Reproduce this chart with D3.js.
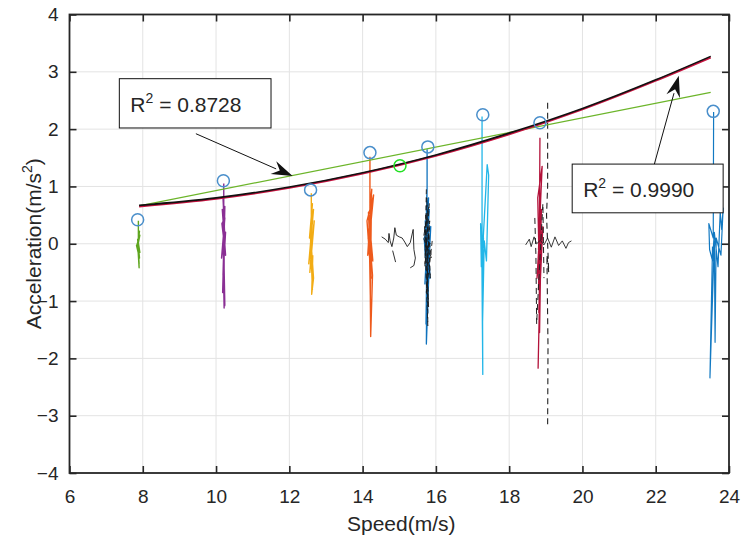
<!DOCTYPE html>
<html><head><meta charset="utf-8">
<script src="https://cdn.jsdelivr.net/npm/d3@7"></script>
<style>
body{margin:0;background:#fff}
text{font-family:"Liberation Sans",Arial,Helvetica,sans-serif;fill:#262626}
</style>
</head><body>
<svg id="chart" width="742" height="541"></svg>
<script>
// ---------- data ----------
const xTicks = [6, 8, 10, 12, 14, 16, 18, 20, 22, 24];
const yTicks = [-4, -3, -2, -1, 0, 1, 2, 3, 4];

// nonlinear fit curve (black) and its companion (red), read at sample speeds
const fitSpeeds = [7.9, 10, 12, 14, 16, 18, 20, 22, 23.5];
const fitBlack  = [0.67, 0.80, 0.99, 1.24, 1.55, 1.93, 2.36, 2.86, 3.27];
const fitRed    = [0.65, 0.785, 0.975, 1.225, 1.535, 1.91, 2.345, 2.845, 3.25];

// linear fit (green)
const linSpeeds = [7.9, 23.5];
const linAcc    = [0.66, 2.64];

// peak markers
const peakSpeeds = [7.86, 10.2, 12.58, 14.2, 15.78, 17.28, 18.84, 23.57];
const peakAcc    = [0.42, 1.10, 0.94, 1.59, 1.69, 2.25, 2.11, 2.31];
const extraSpeed = [15.02];
const extraAcc   = [1.36];

// measured acceleration traces, [speed, acceleration]
const greenTrace = [[7.88,0.40],[7.88,0.10],[7.91,0.22],[7.86,-0.05],[7.92,0.15],[7.84,-0.02],[7.83,-0.03],[7.91,-0.25],[7.87,0.05],[7.92,-0.15],[7.86,0.08],[7.90,-0.35],[7.87,-0.10],[7.90,-0.42],[7.89,-0.20]];
const purpleTrace = [[10.21,1.05],[10.21,0.55],[10.19,0.80],[10.24,0.10],[10.17,0.60],[10.26,-0.20],[10.16,0.35],[10.24,0.45],[10.15,-0.25],[10.26,0.20],[10.19,-0.55],[10.24,0.65],[10.18,-0.85],[10.22,0.15],[10.22,-1.12],[10.20,-0.40],[10.24,-1.08],[10.21,-0.10]];
const orangeTrace = [[12.60,0.88],[12.60,0.45],[12.63,0.70],[12.55,0.10],[12.66,0.60],[12.53,-0.35],[12.64,0.20],[12.56,-0.50],[12.68,0.40],[12.59,-0.10],[12.63,-0.80],[12.57,0.25],[12.66,-0.60],[12.61,-0.88],[12.64,-0.20]];
const redOrangeTrace = [[14.20,1.52],[14.20,0.60],[14.25,0.95],[14.14,-0.20],[14.30,0.85],[14.12,0.40],[14.23,-0.60],[14.16,0.55],[14.28,-0.30],[14.15,0.10],[14.24,0.70],[14.21,-0.90],[14.18,0.20],[14.27,-0.55],[14.22,-1.62],[14.20,-0.10]];
const blueTrace1 = [[15.76,1.65],[15.76,0.95],[15.72,-0.30],[15.80,0.80],[15.70,0.20],[15.84,-0.60],[15.74,0.65],[15.78,-1.20],[15.71,0.40],[15.83,-0.20],[15.75,0.85],[15.79,-0.90],[15.68,0.10],[15.86,0.30],[15.73,-1.40],[15.77,0.55],[15.81,-0.50],[15.74,-1.75],[15.76,0.15],[15.82,0.60],[15.70,-0.70],[15.78,0.25],[15.75,-1.05],[15.80,-0.15],[15.76,0.00]];
const blackTrace1 = [[15.74,0.95],[15.70,-0.40],[15.82,0.70],[15.66,0.10],[15.88,-0.25],[15.72,0.50],[15.80,-1.10],[15.69,0.30],[15.85,-0.60],[15.75,0.80],[15.78,-1.43],[15.71,-0.10],[15.90,0.05],[15.74,-0.85],[15.83,0.40],[15.77,-0.30]];
const blackSquiggle1 = [[14.52,0.12],[14.62,0.08],[14.70,0.02],[14.72,0.18],[14.75,0.05],[14.80,-0.05],[14.85,0.10],[14.88,0.28],[14.92,0.15],[15.00,0.12],[15.08,0.10],[15.15,0.03],[15.22,-0.05],[15.30,0.02],[15.38,0.25],[15.40,-0.10],[15.44,-0.25],[15.40,-0.38],[15.30,-0.42]];
const blackSquiggle1b = [[14.82,-0.12],[14.90,-0.32]];
const cyanTrace = [[17.26,2.22],[17.26,-0.20],[17.22,0.35],[17.24,-0.40],[17.30,0.10],[17.28,-0.05],[17.40,1.38],[17.44,1.20],[17.38,-0.30],[17.32,0.05],[17.27,-1.50],[17.25,0.20],[17.28,-2.28],[17.27,-0.60],[17.30,-0.10]];
const darkRedTrace = [[18.84,1.85],[18.82,-0.40],[18.78,0.80],[18.90,1.35],[18.80,-0.10],[18.86,0.50],[18.76,-0.60],[18.92,0.30],[18.81,-1.20],[18.88,0.60],[18.79,-2.17],[18.85,-0.30],[18.83,-1.55],[18.87,0.10],[18.80,-0.80],[18.84,0.20]];
const blackDashed2 = [[19.05,2.46],[19.05,1.00],[19.02,0.50],[19.08,-0.50],[19.03,-0.20],[19.06,-1.80],[19.05,-3.15]];
const blackDashed2b = [[18.70,0.45],[18.73,-0.20],[18.75,-1.40],[18.78,-1.00],[18.92,0.70],[18.95,-0.60]];
const blackSquiggle2 = [[18.45,-0.02],[18.55,0.08],[18.60,-0.05],[18.68,0.12],[18.75,0.00],[18.85,0.06],[18.95,-0.02],[19.05,0.10],[19.15,-0.06],[19.25,0.12],[19.35,-0.03],[19.45,0.05],[19.55,-0.08],[19.62,0.02],[19.70,0.05]];
const blueTrace2 = [[23.58,2.30],[23.57,0.10],[23.45,0.35],[23.47,-0.10],[23.55,-0.30],[23.60,0.20],[23.70,-0.40],[23.76,0.55],[23.80,0.25],[23.84,0.62],[23.78,-0.20],[23.65,0.10],[23.62,-1.72],[23.60,0.05],[23.48,-2.34],[23.55,-0.05]];

const traces = [
  {pts: greenTrace, color: "#5fa61f", w: 1.4},
  {pts: purpleTrace, color: "#8a2f94", w: 1.4},
  {pts: orangeTrace, color: "#f2ac14", w: 1.4},
  {pts: redOrangeTrace, color: "#ee5a1c", w: 1.4},
  {pts: blueTrace1, color: "#0f72bd", w: 1.3},
  {pts: blackTrace1, color: "#1a1a1a", w: 0.9, dash: "5,3"},
  {pts: blackSquiggle1, color: "#1a1a1a", w: 0.9},
  {pts: blackSquiggle1b, color: "#1a1a1a", w: 0.9},
  {pts: cyanTrace, color: "#22b6e8", w: 1.3},
  {pts: darkRedTrace, color: "#b3123a", w: 1.3},
  {pts: blackDashed2, color: "#222", w: 1.1, dash: "6,4"},
  {pts: blackDashed2b, color: "#222", w: 1.0, dash: "6,4"},
  {pts: blackSquiggle2, color: "#222", w: 0.9},
  {pts: blueTrace2, color: "#1279c2", w: 1.2}
];

const notes = [
  {label: "0.8728", box: [7.36, 11.5, 2.88, 2.02], tail: [9.45, 1.92], tip: [12.09, 1.18]},
  {label: "0.9990", box: [19.72, 23.84, 1.39, 0.54], tail: [21.95, 1.36], tip: [22.63, 2.93]}
];

// ---------- layout ----------
const W = 742, H = 541;
const m = {l: 69.5, r: 13, t: 14.5, b: 68};
const svg = d3.select("#chart");
const x = d3.scaleLinear().domain([6, 24]).range([m.l, W - m.r]);
const y = d3.scaleLinear().domain([-4, 4]).range([H - m.b, m.t]);

// grid
const grid = svg.append("g").attr("stroke", "#e3e3e3").attr("stroke-width", 1);
grid.selectAll(".gx").data(xTicks.slice(1, -1)).join("line")
  .attr("x1", d => x(d)).attr("x2", d => x(d)).attr("y1", y(-4)).attr("y2", y(4));
grid.selectAll(".gy").data(yTicks.slice(1, -1)).join("line")
  .attr("x1", x(6)).attr("x2", x(24)).attr("y1", d => y(d)).attr("y2", d => y(d));

const line = d3.line().x(d => x(d[0])).y(d => y(d[1]));

// traces
traces.forEach(t => {
  svg.append("path").datum(t.pts).attr("d", line)
    .attr("fill", "none").attr("stroke", t.color).attr("stroke-width", t.w)
    .attr("stroke-linejoin", "round")
    .attr("stroke-dasharray", t.dash || null);
});

// fits
const smooth = d3.line().x(d => x(d[0])).y(d => y(d[1])).curve(d3.curveMonotoneX);
svg.append("path").datum(linSpeeds.map((s, i) => [s, linAcc[i]])).attr("d", line)
  .attr("fill", "none").attr("stroke", "#6cb52a").attr("stroke-width", 1.2);
svg.append("path").datum(fitSpeeds.map((s, i) => [s, fitRed[i]])).attr("d", smooth)
  .attr("fill", "none").attr("stroke", "#c8123f").attr("stroke-width", 2);
svg.append("path").datum(fitSpeeds.map((s, i) => [s, fitBlack[i]])).attr("d", smooth)
  .attr("fill", "none").attr("stroke", "#111").attr("stroke-width", 1.6);

// markers
svg.append("g").selectAll("circle").data(peakSpeeds.map((s, i) => [s, peakAcc[i]])).join("circle")
  .attr("cx", d => x(d[0])).attr("cy", d => y(d[1])).attr("r", 6)
  .attr("fill", "none").attr("stroke", "#4a8fcb").attr("stroke-width", 1.5);
svg.append("g").selectAll("circle").data(extraSpeed.map((s, i) => [s, extraAcc[i]])).join("circle")
  .attr("cx", d => x(d[0])).attr("cy", d => y(d[1])).attr("r", 6)
  .attr("fill", "none").attr("stroke", "#22e022").attr("stroke-width", 1.5);

// axes (box with inward ticks)
const fmt = d3.format("d");
svg.append("g").attr("transform", `translate(0,${y(-4)})`)
  .call(d3.axisBottom(x).tickValues(xTicks).tickFormat(fmt).tickSize(-7).tickPadding(17).tickSizeOuter(0))
  .call(g => g.select(".domain").remove());
svg.append("g").attr("transform", `translate(${x(6)},0)`)
  .call(d3.axisLeft(y).tickValues(yTicks).tickFormat(fmt).tickSize(-7).tickPadding(11).tickSizeOuter(0))
  .call(g => g.select(".domain").remove());
svg.append("g").attr("transform", `translate(0,${y(4)})`)
  .call(d3.axisTop(x).tickValues(xTicks).tickFormat("").tickSize(-7).tickSizeOuter(0))
  .call(g => g.select(".domain").remove());
svg.append("g").attr("transform", `translate(${x(24)},0)`)
  .call(d3.axisRight(y).tickValues(yTicks).tickFormat("").tickSize(-7).tickSizeOuter(0))
  .call(g => g.select(".domain").remove());
svg.selectAll(".tick line").attr("stroke", "#262626").attr("stroke-width", 1.6);
svg.selectAll(".tick text").attr("font-size", 19).attr("font-family", "Liberation Sans, Arial, sans-serif").attr("fill", "#262626");
svg.append("rect").attr("x", x(6)).attr("y", y(4)).attr("width", x(24) - x(6)).attr("height", y(-4) - y(4))
  .attr("fill", "none").attr("stroke", "#262626").attr("stroke-width", 1.8);

// axis labels
svg.append("text").attr("x", (x(6) + x(24)) / 2 + 2).attr("y", 531).attr("text-anchor", "middle")
  .attr("font-size", 21).text("Speed(m/s)");
const yl = svg.append("text").attr("transform", `translate(41,${(y(-4) + y(4)) / 2}) rotate(-90)`)
  .attr("text-anchor", "middle").attr("font-size", 21);
yl.append("tspan").text("Acceleration(m/s");
yl.append("tspan").attr("font-size", 14).attr("dy", -9).text("2");
yl.append("tspan").attr("dy", 9).text(")");

// annotations
notes.forEach(n => {
  const [x0, x1, y0, y1] = n.box;
  const tx = x(n.tail[0]), ty = y(n.tail[1]), px = x(n.tip[0]), py = y(n.tip[1]);
  const ang = Math.atan2(py - ty, px - tx);
  const L = 18, hw = 7;
  const bx = px - L * Math.cos(ang), by = py - L * Math.sin(ang);
  svg.append("line").attr("x1", tx).attr("y1", ty).attr("x2", bx).attr("y2", by)
    .attr("stroke", "#111").attr("stroke-width", 1);
  const pts = [[px, py],
    [bx + hw * Math.sin(ang) - 3 * Math.cos(ang), by - hw * Math.cos(ang) - 3 * Math.sin(ang)],
    [bx + 4 * Math.cos(ang), by + 4 * Math.sin(ang)],
    [bx - hw * Math.sin(ang) - 3 * Math.cos(ang), by + hw * Math.cos(ang) - 3 * Math.sin(ang)]];
  svg.append("polygon").attr("points", pts.map(p => p.join(",")).join(" ")).attr("fill", "#111");
  svg.append("rect").attr("x", x(x0)).attr("y", y(y0)).attr("width", x(x1) - x(x0)).attr("height", y(y1) - y(y0))
    .attr("fill", "#fff").attr("stroke", "#111").attr("stroke-width", 1);
  const t = svg.append("text").attr("x", x(x0) + 11).attr("y", y(y1) - 16).attr("font-size", 21).attr("fill", "#111");
  t.append("tspan").text("R");
  t.append("tspan").attr("font-size", 14).attr("dy", -9).text("2");
  t.append("tspan").attr("dy", 9).text(" = " + n.label);
});
</script>
</body></html>
